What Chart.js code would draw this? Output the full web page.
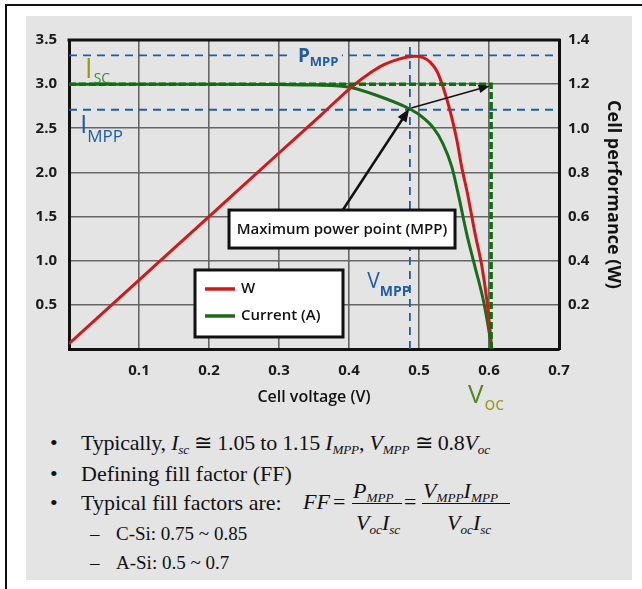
<!DOCTYPE html>
<html>
<head>
<meta charset="utf-8">
<title>Solar cell I-V curve</title>
<script src="https://cdn.jsdelivr.net/npm/chart.js@4.4.0/dist/chart.umd.min.js"></script>
<style>
  body { margin: 0; width: 642px; height: 589px; background: #fff; position: relative; overflow: hidden; }
  #frame { position: absolute; left: 5px; top: 4px; right: -5px; bottom: -5px; border-top: 2px solid #111; border-left: 2px solid #111; }
  #panel { position: absolute; left: 26px; top: 16px; width: 606px; height: 564px; background: #e4e4e4; }
  #chartWrap { position: absolute; left: 26px; top: 16px; width: 606px; height: 404px; }
  .t { position: absolute; white-space: nowrap; font-family: "Liberation Serif", "Times New Roman", serif; color: #111; font-size: 22px; line-height: 22px; }
  .s { font-size: 19px; line-height: 19px; }
  .t sub { font-size: 0.6em; vertical-align: -0.3em; line-height: 0; }
  .bar { position: absolute; height: 1px; background: #111; }
</style>
</head>
<body>
<div id="frame"></div>
<div id="panel"></div>
<div id="chartWrap"><canvas id="ivChart" width="606" height="404"></canvas></div>

<!-- notes under the chart -->
<div class="t" style="left:50px;top:432px">•</div>
<div class="t" style="left:81px;top:432px;letter-spacing:-0.2px">Typically, <i>I<sub>sc</sub></i> ≅ 1.05 to 1.15 <i>I<sub>MPP</sub></i>, <i>V<sub>MPP</sub></i> ≅ 0.8<i>V<sub>oc</sub></i></div>
<div class="t" style="left:50px;top:463px">•</div>
<div class="t" style="left:81px;top:463px">Defining fill factor (FF)</div>
<div class="t" style="left:50px;top:492px">•</div>
<div class="t" style="left:81px;top:492px">Typical fill factors are:</div>
<div class="t s" style="left:90px;top:524px">–</div>
<div class="t s" style="left:116px;top:524px">C-Si: 0.75 ~ 0.85</div>
<div class="t s" style="left:90px;top:553px">–</div>
<div class="t s" style="left:116px;top:553px">A-Si: 0.5 ~ 0.7</div>

<!-- fill factor formula -->
<div class="t" style="left:303px;top:491px"><i>FF</i></div>
<div class="t" style="left:333px;top:491px">=</div>
<div class="t" style="left:353px;top:480px"><i>P<sub>MPP</sub></i></div>
<div class="bar" style="left:352px;top:503px;width:50px"></div>
<div class="t" style="left:356px;top:512px"><i>V<sub>oc</sub>I<sub>sc</sub></i></div>
<div class="t" style="left:404px;top:491px">=</div>
<div class="t" style="left:423px;top:480px"><i>V<sub>MPP</sub>I<sub>MPP</sub></i></div>
<div class="bar" style="left:422px;top:503px;width:88px"></div>
<div class="t" style="left:447px;top:512px"><i>V<sub>oc</sub>I<sub>sc</sub></i></div>

<script>
// I-V and power curve of a solar cell

// power curve (right axis, W)
const wVolts = [0, 0.1, 0.2, 0.3, 0.36, 0.404, 0.43, 0.45, 0.47, 0.494, 0.506, 0.516, 0.526, 0.534, 0.544, 0.554, 0.561, 0.569, 0.58, 0.59, 0.597, 0.601, 0.604];
const wPower = [0.024, 0.312, 0.6, 0.888, 1.06, 1.188, 1.25, 1.288, 1.312, 1.326, 1.32, 1.3, 1.256, 1.19, 1.084, 0.948, 0.824, 0.708, 0.524, 0.372, 0.22, 0.1, 0];

// current curve (left axis, A)
const iVolts = [0, 0.1, 0.2, 0.3, 0.35, 0.404, 0.444, 0.484, 0.501, 0.52, 0.534, 0.547, 0.557, 0.568, 0.58, 0.592, 0.599, 0.604];
const iAmps = [3.0, 3.0, 3.0, 2.995, 2.99, 2.96, 2.86, 2.73, 2.65, 2.51, 2.33, 2.06, 1.72, 1.31, 0.93, 0.55, 0.25, 0];

// reference levels
const vMpp = 0.487;
const iMpp = 2.71;
const pMpp = 1.33;
const iSc = 3.0;
const vOc = 0.603;

// axis ranges
const xTicks = [0, 0.7, 0.1];
const leftTicks = [0, 3.5, 0.5];
const rightTicks = [0, 1.4, 0.2];

const FONT = "'Open Sans', 'DejaVu Sans', sans-serif";
const BLUE = "#1f5ca6";
const RED = "#d01a1a";
const GREEN = "#1a6b1a";
const DGREEN = "#0c6e0c";

function toPts(xs, ys) {
  return xs.map((x, i) => ({ x: x, y: ys[i] }));
}

function hideZero(v) {
  return v === 0 ? "" : v.toFixed(1);
}

// text with a subscript, baseline at (x, y)
function subText(ctx, x, y, main, sub, o) {
  ctx.textAlign = "left";
  ctx.textBaseline = "alphabetic";
  ctx.font = o.font;
  ctx.fillStyle = o.color;
  ctx.fillText(main, x, y);
  const w = ctx.measureText(main).width;
  ctx.font = o.subFont;
  ctx.fillStyle = o.subColor || o.color;
  ctx.fillText(sub, x + w + (o.gap || 0), y + o.drop);
}

function arrow(ctx, x1, y1, x2, y2, lw, head) {
  const a = Math.atan2(y2 - y1, x2 - x1);
  ctx.strokeStyle = "#111";
  ctx.fillStyle = "#111";
  ctx.lineWidth = lw;
  ctx.beginPath();
  ctx.moveTo(x1, y1);
  ctx.lineTo(x2 - Math.cos(a) * head * 0.8, y2 - Math.sin(a) * head * 0.8);
  ctx.stroke();
  ctx.beginPath();
  ctx.moveTo(x2, y2);
  ctx.lineTo(x2 - head * Math.cos(a) + head * 0.4 * Math.sin(a), y2 - head * Math.sin(a) - head * 0.4 * Math.cos(a));
  ctx.lineTo(x2 - head * Math.cos(a) - head * 0.4 * Math.sin(a), y2 - head * Math.sin(a) + head * 0.4 * Math.cos(a));
  ctx.closePath();
  ctx.fill();
}

// labels, arrows, legend and the MPP call-out box
const annotations = {
  id: "annotations",
  afterDraw(chart) {
    const ctx = chart.ctx;
    const sx = chart.scales.x;
    const sy = chart.scales.y;
    const px = (v) => sx.getPixelForValue(v);
    const py = (v) => sy.getPixelForValue(v);
    ctx.save();

    // top border of the plot
    const ca = chart.chartArea;
    ctx.strokeStyle = "#111";
    ctx.lineWidth = 3;
    ctx.beginPath();
    ctx.moveTo(ca.left - 1.5, ca.top);
    ctx.lineTo(ca.right + 1.5, ca.top);
    ctx.stroke();

    // P_MPP label sits on the dashed line
    const x0 = px(0.327), y0 = py(3.25);
    ctx.fillStyle = "#e4e4e4";
    ctx.fillRect(x0 - 8, y0 - 17, 52, 24);
    subText(ctx, x0, y0, "P", "MPP", { font: "bold 19px " + FONT, subFont: "bold 13px " + FONT, color: BLUE, drop: 4 });

    subText(ctx, px(0.023), py(3.07), "I", "SC", { font: "27px " + FONT, subFont: "14px " + FONT, color: "#9a9a10", subColor: "#3a8a3a", drop: 5, gap: 1 });
    subText(ctx, px(0.016), py(2.45), "I", "MPP", { font: "25px " + FONT, subFont: "17px " + FONT, color: BLUE, drop: 9, gap: 0 });
    subText(ctx, px(0.426), py(0.69), "V", "MPP", { font: "21px " + FONT, subFont: "bold 14px " + FONT, color: BLUE, drop: 8 });
    subText(ctx, px(0.57), py(-0.61), "V", "oc", { font: "26px " + FONT, subFont: "18px " + FONT, color: "#4f8a1e", subColor: "#9a9a18", drop: 7, gap: 1 });

    // legend box
    const lx = px(0.18), ly = py(0.895);
    ctx.fillStyle = "#fff";
    ctx.fillRect(lx, ly, 148, 67);
    ctx.strokeStyle = "#111";
    ctx.lineWidth = 3;
    ctx.strokeRect(lx, ly, 148, 67);
    const items = chart.data.datasets.filter((d) => d.inLegend);
    items.forEach((d, i) => {
      const yy = ly + 19 + i * 27;
      ctx.strokeStyle = d.borderColor;
      ctx.lineWidth = 3.5;
      ctx.beginPath();
      ctx.moveTo(lx + 10, yy);
      ctx.lineTo(lx + 40, yy);
      ctx.stroke();
      ctx.fillStyle = "#111";
      ctx.font = "600 15px " + FONT;
      ctx.textBaseline = "middle";
      ctx.textAlign = "left";
      ctx.fillText(d.label, lx + 46, yy);
    });

    // arrows to the MPP and to the Isc/Voc corner
    arrow(ctx, px(0.39), py(1.56), px(0.486), py(2.72), 2.5, 13);
    arrow(ctx, px(0.489), py(2.73), px(0.601), py(2.98), 1.4, 11);

    // call-out box
    const bx = px(0.2286), by = py(1.574);
    ctx.fillStyle = "#fff";
    ctx.fillRect(bx, by, 226, 38);
    ctx.strokeStyle = "#111";
    ctx.lineWidth = 3;
    ctx.strokeRect(bx, by, 226, 38);
    ctx.fillStyle = "#111";
    ctx.font = "600 15px " + FONT;
    ctx.textAlign = "center";
    ctx.textBaseline = "middle";
    ctx.fillText("Maximum power point (MPP)", bx + 113, by + 20);

    ctx.restore();
  },
};

const ctx = document.getElementById("ivChart").getContext("2d");

new Chart(ctx, {
  type: "line",
  data: {
    datasets: [
      {
        label: "W",
        inLegend: true,
        data: toPts(wVolts, wPower),
        yAxisID: "y1",
        borderColor: RED,
        borderWidth: 3,
        pointRadius: 0,
        cubicInterpolationMode: "monotone",
        order: 2,
      },
      {
        label: "Current (A)",
        inLegend: true,
        data: toPts(iVolts, iAmps),
        yAxisID: "y",
        borderColor: GREEN,
        borderWidth: 3,
        pointRadius: 0,
        cubicInterpolationMode: "monotone",
        order: 3,
      },
      {
        label: "Isc",
        data: [{ x: 0, y: iSc }, { x: vOc, y: iSc }, { x: vOc, y: 0 }],
        yAxisID: "y",
        borderColor: DGREEN,
        borderWidth: 3.5,
        borderDash: [7, 3],
        pointRadius: 0,
        order: 1,
      },
      {
        label: "Pmpp",
        data: [{ x: 0, y: pMpp }, { x: 0.7, y: pMpp }],
        yAxisID: "y1",
        borderColor: BLUE,
        borderWidth: 1.8,
        borderDash: [8, 6],
        pointRadius: 0,
        order: 4,
      },
      {
        label: "Impp",
        data: [{ x: 0, y: iMpp }, { x: 0.7, y: iMpp }],
        yAxisID: "y",
        borderColor: BLUE,
        borderWidth: 1.8,
        borderDash: [8, 6],
        pointRadius: 0,
        order: 4,
      },
      {
        label: "Vmpp",
        data: [{ x: vMpp, y: 0 }, { x: vMpp, y: 3.5 }],
        yAxisID: "y",
        borderColor: BLUE,
        borderWidth: 1.8,
        borderDash: [8, 6],
        pointRadius: 0,
        order: 4,
      },
    ],
  },
  options: {
    responsive: false,
    animation: false,
    layout: { padding: { top: 24, left: 0, right: 0, bottom: 0 } },
    plugins: {
      legend: { display: false },
      tooltip: { enabled: false },
    },
    scales: {
      x: {
        type: "linear",
        min: xTicks[0],
        max: xTicks[1],
        afterFit: (s) => { s.height = 71; },
        ticks: { stepSize: xTicks[2], callback: hideZero, color: "#1a1a1a", font: { family: FONT, size: 15, weight: "bold" }, padding: 13 },
        grid: { color: "#666", lineWidth: 1.6, drawTicks: false },
        border: { color: "#111", width: 3 },
        title: { display: true, text: "Cell voltage (V)", color: "#111", font: { family: FONT, size: 16, weight: "600" }, padding: { top: 0, bottom: 13 } },
      },
      y: {
        position: "left",
        min: leftTicks[0],
        max: leftTicks[1],
        afterFit: (s) => { s.width = 43; },
        ticks: { stepSize: leftTicks[2], callback: hideZero, color: "#1a1a1a", font: { family: FONT, size: 15, weight: "bold" }, padding: 12 },
        grid: { color: "#666", lineWidth: 1.6, drawTicks: false },
        border: { color: "#111", width: 3 },
      },
      y1: {
        position: "right",
        min: rightTicks[0],
        max: rightTicks[1],
        afterFit: (s) => { s.width = 73; },
        ticks: { stepSize: rightTicks[2], callback: hideZero, color: "#1a1a1a", font: { family: FONT, size: 15, weight: "bold" }, padding: 9 },
        grid: { drawOnChartArea: false, drawTicks: false },
        border: { color: "#111", width: 3 },
        title: { display: true, text: "Cell performance (W)", color: "#111", font: { family: FONT, size: 18, weight: "bold" }, padding: { top: 8, bottom: 0 } },
      },
    },
  },
  plugins: [annotations],
});
</script>
</body>
</html>
